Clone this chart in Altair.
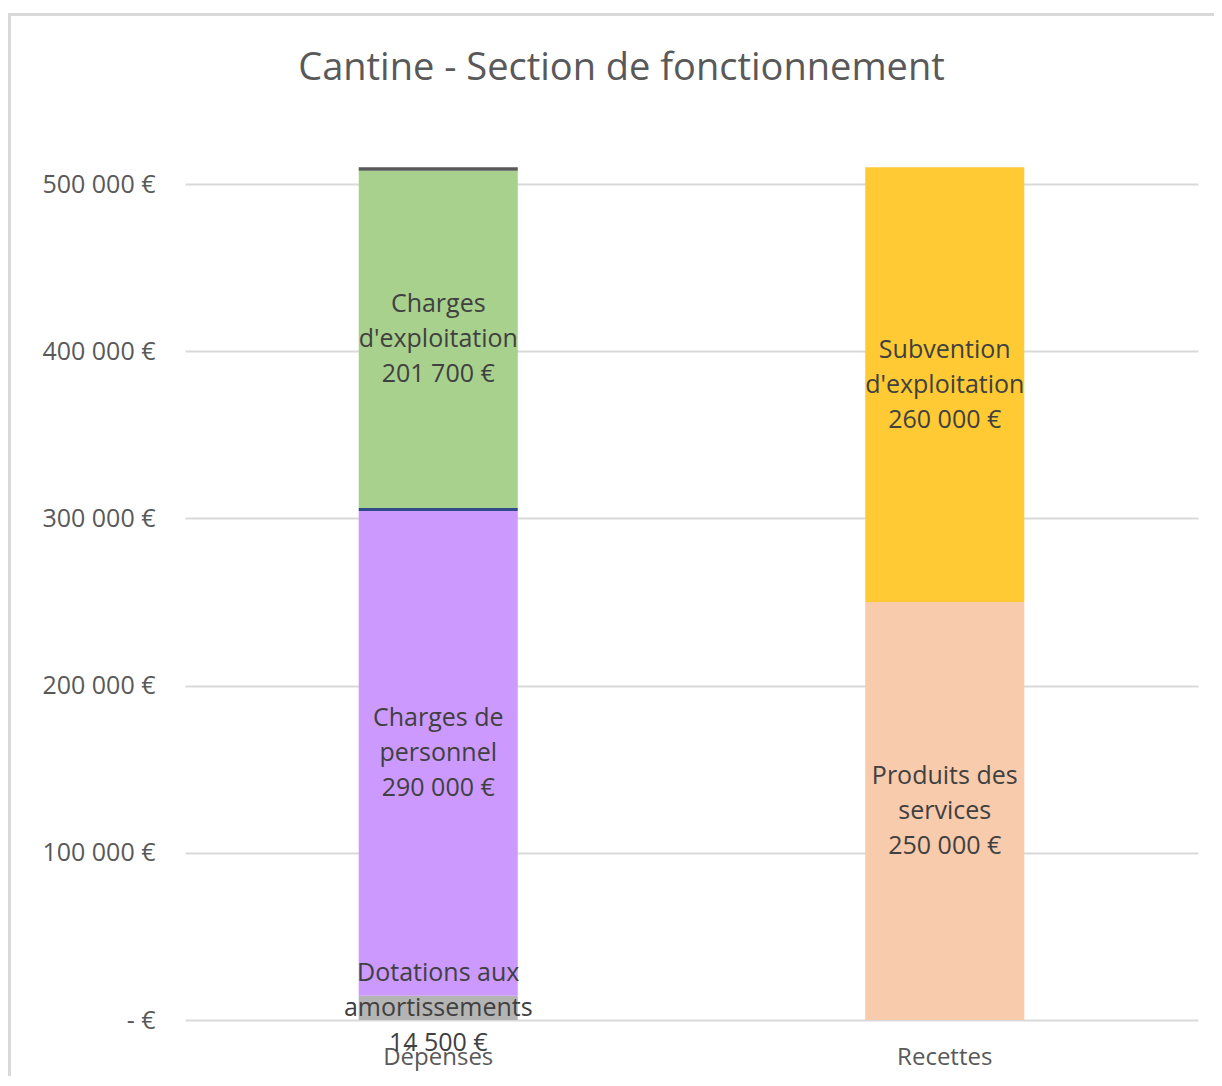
import altair as alt
import pandas as pd

categories = ["Dépenses", "Dépenses", "Dépenses", "Dépenses", "Dépenses", "Recettes", "Recettes"]
segments = ["Dotations aux amortissements", "Charges de personnel", "Charges financières",
            "Charges d'exploitation", "Charges exceptionnelles",
            "Produits des services", "Subvention d'exploitation"]
values = [14500, 290000, 1800, 201700, 2000, 250000, 260000]
stack_order = [1, 2, 3, 4, 5, 1, 2]
label_lines = ["Dotations aux\namortissements", "Charges de\npersonnel", "",
               "Charges\nd'exploitation", "", "Produits des\nservices", "Subvention\nd'exploitation"]
colors = ["#b4b4b4", "#cc99ff", "#2f4b8a", "#a9d18e", "#595959", "#f8cbad", "#ffca33"]
y_ticks = [0, 100000, 200000, 300000, 400000, 500000]


def fmt(v):
    return f"{v:,}".replace(",", " ") + " €"


labels = [(l + "\n" + fmt(v)) if l else "" for l, v in zip(label_lines, values)]

df = pd.DataFrame({
    "cat": categories, "seg": segments, "value": values,
    "ord": stack_order, "label": labels,
})

FONT = "Open Sans"

base = alt.Chart(df).transform_stack(
    stack="value", groupby=["cat"], as_=["y0", "y1"],
    sort=[alt.SortField("ord", order="ascending")]
)

xenc = alt.X("cat:N", title=None,
             scale=alt.Scale(paddingInner=0, paddingOuter=0),
             axis=alt.Axis(labelFontSize=24, labelColor="#595959", labelFont=FONT,
                           domain=False, ticks=False, labelPadding=25, labelAngle=0))

bars = base.mark_bar(width=alt.RelativeBandSize(0.314)).encode(
    x=xenc,
    y=alt.Y("y0:Q", title=None,
            scale=alt.Scale(domain=[0, 515000], nice=False),
            axis=alt.Axis(values=y_ticks, grid=True, gridColor="#d9d9d9", gridWidth=2,
                          domain=False, ticks=False, labelPadding=30,
                          labelFontSize=25, labelColor="#595959", labelFont=FONT,
                          labelExpr="datum.value == 0 ? '- €' : replace(format(datum.value, ','), ',', ' ') + ' €'")),
    y2="y1:Q",
    color=alt.Color("seg:N", scale=alt.Scale(domain=segments, range=colors), legend=None),
)

texts = base.transform_filter("datum.label != ''").transform_calculate(
    mid="(datum.y0 + datum.y1) / 2"
).mark_text(lineBreak="\n", lineHeight=35, fontSize=25, font=FONT, color="#404040",
            baseline="middle", align="center", dy=-35).encode(
    x=alt.X("cat:N"),
    y=alt.Y("mid:Q"),
    text="label:N",
)

frame_df = pd.DataFrame({"k": [0]})
left_border = alt.Chart(frame_df).mark_rule(color="#d9d9d9", strokeWidth=3).encode(
    x=alt.value(-175.5), y=alt.value(-146), y2=alt.value(930))
top_border = alt.Chart(frame_df).mark_rule(color="#d9d9d9", strokeWidth=3).encode(
    x=alt.value(-177), x2=alt.value(1040), y=alt.value(-144.5))

chart = alt.layer(bars, texts, left_border, top_border).properties(
    width=1013, height=861,
    autosize=alt.AutoSizeParams(type="none"),
    padding={"left": 177, "top": 151, "right": 16, "bottom": 56},
    title=alt.Title("Cantine - Section de fonctionnement", fontSize=38, font=FONT,
                    color="#595959", fontWeight="normal", offset=-76, dx=-70),
).configure_view(stroke=None)

chart.save("out.html", embed_options={"renderer": "svg", "actions": False})
